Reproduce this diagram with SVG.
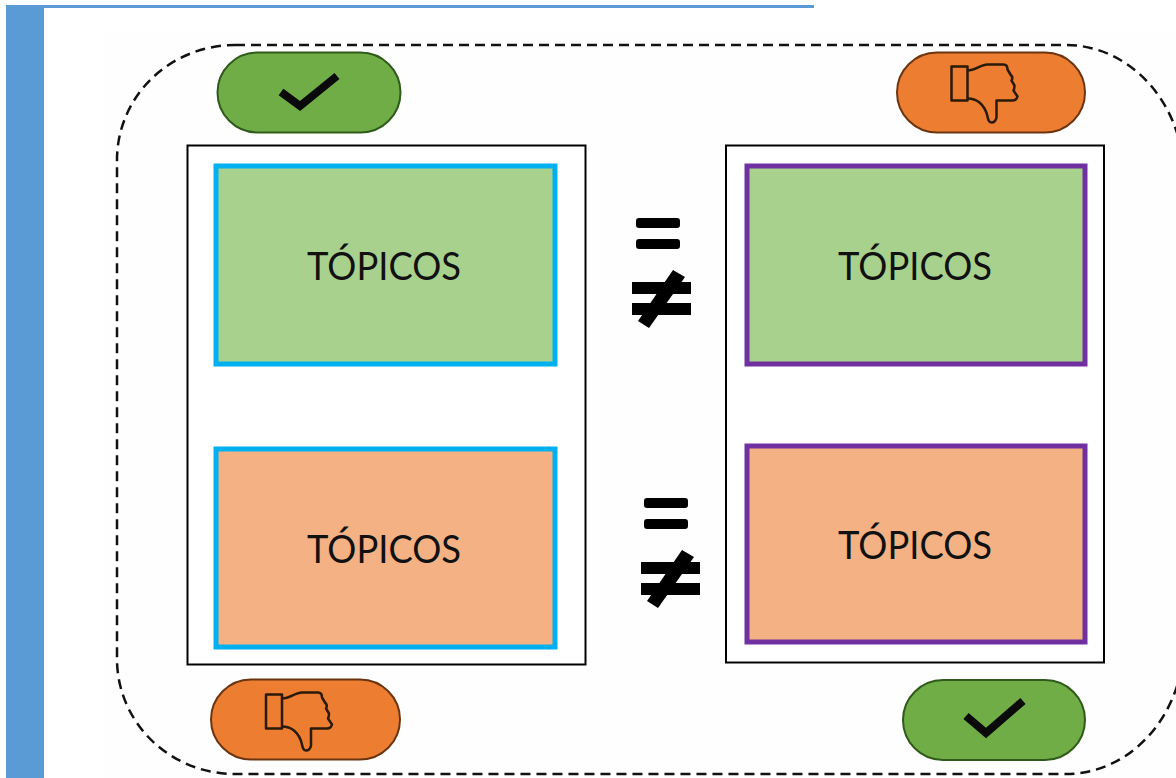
<svg xmlns="http://www.w3.org/2000/svg" width="1176" height="778" viewBox="0 0 1176 778">
<style>
.t{font-family:Lato,"Open Sans","Liberation Sans",sans-serif;font-size:38px;fill:#111;text-anchor:middle}
.panel{fill:#fff;stroke:#000;stroke-width:2}
.g{fill:#a9d18e}.o{fill:#f4b183}
.bl{stroke:#00b0f0;stroke-width:5}.pu{stroke:#7030a0;stroke-width:5}
.pg{fill:#70ad47;stroke:#2f5a1a;stroke-width:2}
.po{fill:#ed7d31;stroke:#6b3510;stroke-width:2}
.chk{fill:none;stroke:#0a0a0a;stroke-width:8}
.th{fill:none;stroke:#2a1a0a;stroke-width:2.500;stroke-linejoin:round}
</style>
<defs>
<g id="thumb">
<rect x="0" y="0" width="16" height="34"/>
<path d="M16 4C24 4 29 -2 36 -2L52 -2Q56 -2 56 3L59 8Q62 11 60 14L63 19Q63 22 62 24L66 30Q65 34 61 34L45 34L45 51Q44 56 40 56Q37 56 36 50Q34 41 28 36Q23 32 16 32"/>
</g>
<g id="eq"><rect x="0" y="0" width="44" height="10" rx="3"/><rect x="0" y="21" width="44" height="10" rx="3"/></g>
<g id="ne"><rect x="0" y="12" width="59" height="12"/><rect x="0" y="33" width="59" height="12"/><path d="M41 0L53 7L17 58L6 51Z"/></g>
</defs>
<rect x="0" y="0" width="1176" height="778" fill="#fff"/>
<rect x="105" y="33" width="1071" height="745" fill="#fefefe"/>
<rect x="6" y="5" width="808" height="3" fill="#5b9bd5"/>
<rect x="6" y="5" width="38" height="773" fill="#5b9bd5"/>
<g id="connectors"><path id="frame" d="M235 45H1066A118 133 0 0 1 1184 178V641A118 133 0 0 1 1066 774H235A118 115 0 0 1 117 659V160A118 115 0 0 1 235 45Z" fill="none" stroke="#111" stroke-width="2.500" stroke-dasharray="10 6"/></g>
<g id="left-panel"><rect class="panel" x="187.500" y="145.500" width="398" height="519"/></g>
<g id="right-panel"><rect class="panel" x="726" y="145.500" width="378" height="517"/></g>
<g id="left-top"><rect class="g bl" x="216" y="166" width="339" height="198"/><text class="t" x="384" y="280" textLength="154" lengthAdjust="spacingAndGlyphs">TÓPICOS</text></g>
<g id="left-bottom"><rect class="o bl" x="216" y="449" width="339" height="198"/><text class="t" x="384" y="563" textLength="154" lengthAdjust="spacingAndGlyphs">TÓPICOS</text></g>
<g id="right-top"><rect class="g pu" x="747" y="166" width="338" height="198"/><text class="t" x="915" y="280" textLength="154" lengthAdjust="spacingAndGlyphs">TÓPICOS</text></g>
<g id="right-bottom"><rect class="o pu" x="747" y="446" width="338" height="196"/><text class="t" x="915" y="559" textLength="154" lengthAdjust="spacingAndGlyphs">TÓPICOS</text></g>
<g id="pill-check-top"><rect class="pg" x="217.500" y="52.500" width="183" height="80" rx="40"/><path class="chk" d="M281 92L300 106L337 76"/></g>
<g id="pill-thumb-top"><rect class="po" x="897" y="52.500" width="188" height="80" rx="40"/><use href="#thumb" class="th" x="951.500" y="66.500"/></g>
<g id="pill-thumb-bottom"><rect class="po" x="211" y="679.500" width="189" height="80" rx="40"/><use href="#thumb" class="th" x="266" y="694.500"/></g>
<g id="pill-check-bottom"><rect class="pg" x="903" y="680" width="182" height="80" rx="40"/><path class="chk" d="M966 716L986 733L1023 701"/></g>
<g id="sign-top"><use href="#eq" x="636" y="218"/><use href="#ne" x="632" y="270"/></g>
<g id="sign-bottom"><use href="#eq" x="644" y="498"/><use href="#ne" x="641" y="550"/></g>
</svg>
